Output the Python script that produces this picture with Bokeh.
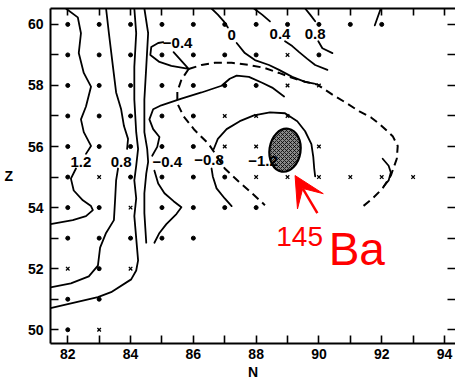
from bokeh.plotting import figure
from bokeh.models import LinearAxis, FixedTicker, Arrow, VeeHead, Range1d
from bokeh.core.properties import value
from bokeh.embed import file_html
from bokeh.resources import INLINE

FONT = "Liberation Sans"

# ---- axis ticks -------------------------------------------------------
n_ticks = list(range(82, 95))
z_ticks = list(range(50, 61))

# ---- grid points (dots = measured, crosses = predicted) ---------------
dot_n = ([82, 83, 84, 85, 86, 87, 88, 89, 90, 91, 92] +
         [82, 83, 84, 85, 86, 87, 88, 90] +
         [82, 83, 84, 85, 86, 87, 88] +
         [82, 83, 84, 85, 86] +
         [82, 83, 84, 85, 86] +
         [82, 84, 85, 86, 87] +
         [82, 83, 85, 86, 87, 88] +
         [82, 83, 84, 85, 86] +
         [83] + [82, 83] + [82])
dot_z = ([60] * 11 + [59] * 8 + [58] * 7 + [57] * 5 + [56] * 5 +
         [55] * 5 + [54] * 6 + [53] * 5 + [52] + [51] * 2 + [50])

cross_n = [89, 89, 90, 87, 88, 89, 87, 88, 90, 83, 88, 89, 90, 91, 92, 93, 84, 82, 84, 83]
cross_z = [59, 58, 58, 57, 57, 57, 56, 56, 56, 55, 55, 55, 55, 55, 55, 55, 54, 52, 52, 50]

# ---- contour lines (N, Z) --------------------------------------------
c12a_n = [81.94, 82.32, 82.42, 82.35, 82.51, 82.74, 82.58, 82.42, 82.51, 82.74, 82.58]
c12a_z = [60.52, 60.23, 59.71, 59.06, 58.41, 57.96, 57.31, 56.89, 56.47, 56.02, 55.76]
c12b_n = [82.26, 82.10, 82.19, 82.48, 82.74, 82.80, 82.58, 82.16, 81.45]
c12b_z = [55.28, 54.95, 54.56, 54.24, 54.05, 53.92, 53.72, 53.59, 53.46]

c08a_n = [83.22, 83.31, 83.44, 83.54, 83.70, 83.79, 83.92, 83.89]
c08a_z = [60.52, 59.71, 58.61, 57.77, 57.22, 56.67, 56.25, 55.92]
c08b_n = [83.60, 83.54, 83.51, 83.47, 83.22, 83.03, 82.96, 82.67, 82.10, 81.45]
c08b_z = [55.28, 54.89, 54.30, 53.59, 53.17, 52.69, 52.10, 51.75, 51.52, 51.39]

c04_n = [84.12, 84.18, 84.12, 84.12, 84.18, 84.24, 84.18, 84.12, 84.18, 84.12,
         84.24, 84.18, 84.02, 83.38, 82.96, 82.00, 81.45]
c04_z = [60.52, 59.71, 58.61, 57.54, 56.47, 55.92, 55.37, 54.89, 54.30, 53.72,
         52.27, 51.94, 51.65, 51.23, 51.07, 50.84, 50.71]

c00_n = [84.44, 84.56, 84.50, 84.44, 84.44, 84.53, 84.56, 84.50, 84.44, 84.44, 84.47, 84.50]
c00_z = [60.52, 59.71, 58.61, 57.54, 56.47, 55.92, 55.50, 55.11, 54.47, 53.82, 53.33, 52.85]

cm04a_n = [88.89, 88.51, 88.19, 87.77, 87.38, 87.16, 86.90, 86.26, 85.62, 84.98,
           84.72, 84.60, 84.72, 84.92, 84.85, 84.69]
cm04a_z = [57.64, 57.93, 58.09, 58.28, 58.32, 58.22, 57.99, 57.77, 57.57, 57.35,
           57.22, 56.89, 56.57, 56.31, 55.99, 55.70]
cm04b_n = [84.76, 84.88, 85.08, 85.37, 85.62, 85.46, 85.14, 84.92, 84.76]
cm04b_z = [55.21, 54.79, 54.47, 54.21, 54.01, 53.79, 53.46, 53.17, 52.85]

loop_n = [85.37, 85.85, 85.30, 84.92, 84.63, 84.66, 84.88, 85.04]
loop_z = [59.09, 58.54, 58.64, 58.77, 59.00, 59.26, 59.39, 59.42]

t00a_n = [86.58, 86.78, 86.97, 87.10]
t00a_z = [60.52, 60.32, 60.10, 59.90]
t00b_n = [87.38, 87.64, 87.96, 88.41, 88.73, 89.15, 89.56, 89.85]
t00b_z = [59.39, 59.06, 58.83, 58.67, 58.51, 58.28, 58.12, 58.06]

t04a_n = [87.93, 88.19, 88.44]
t04a_z = [60.52, 60.32, 60.10]
t04b_n = [88.92, 89.15, 89.37, 89.63, 89.88, 90.27]
t04b_z = [59.45, 59.29, 59.09, 58.87, 58.67, 58.51]

t08a_n = [89.56, 89.72, 89.88]
t08a_z = [60.52, 60.32, 60.10]
t08b_n = [89.98, 90.11, 90.43]
t08b_z = [59.45, 59.22, 59.06]

t12_n = [91.97, 91.78]
t12_z = [60.52, 59.97]

cm08a_n = [86.65, 86.78, 87.06, 87.48, 87.93, 88.44, 88.92, 89.31, 89.56, 89.76, 89.82, 89.85, 89.88]
cm08a_z = [55.92, 56.25, 56.57, 56.83, 57.02, 57.12, 57.09, 56.83, 56.50, 56.08, 55.66, 55.28, 55.02]
cm08b_n = [86.58, 86.62, 86.74, 87.00, 87.22]
cm08b_z = [55.28, 55.02, 54.63, 54.30, 54.05]

arc_n = [92.03, 92.22, 92.29, 92.22, 92.06]
arc_z = [55.60, 55.37, 55.15, 54.89, 54.69]

# ---- dashed boundary --------------------------------------------------
dtop_n = [85.85, 86.26, 86.68, 87.22, 87.77, 88.25, 88.73, 89.15, 89.56, 89.95,
          90.43, 90.85, 91.29, 91.65, 91.94, 92.35, 92.51, 92.48, 92.29, 92.03, 91.71, 91.33]
dtop_z = [58.54, 58.67, 58.74, 58.74, 58.67, 58.58, 58.41, 58.25, 58.12, 58.03,
          57.70, 57.44, 57.15, 56.96, 56.73, 56.34, 56.02, 55.60, 55.05, 54.63, 54.30, 53.98]
dleft_n = [85.85, 85.62, 85.49, 85.49, 85.69, 86.04, 86.49, 86.74, 87.00, 87.45, 87.87, 88.28]
dleft_z = [58.54, 58.19, 57.80, 57.41, 56.99, 56.54, 56.08, 55.70, 55.28, 54.85, 54.47, 54.08]

# ---- contour labels ---------------------------------------------------
lab_text = ["1.2", "0.8", "\u22120.4", "\u22120.8", "\u22121.2", "\u22120.4", "0", "0.4", "0.8"]
lab_n = [82.42, 83.70, 85.17, 86.50, 88.22, 85.50, 87.22, 88.76, 89.88]
lab_z = [55.50, 55.50, 55.50, 55.57, 55.53, 59.39, 59.64, 59.68, 59.68]

# ---- 145Ba region ----------------------------------------------------
ell_n, ell_z, ell_w, ell_h = [88.92], [55.88], [0.99], [1.42]
arrow_from = (89.95, 53.82)
arrow_to = (89.24, 55.05)
mass_pos = (88.64, 53.06)
elem_pos = (90.31, 52.64)

p = figure(width=455, height=382,
           x_range=Range1d(81.45, 94.35), y_range=Range1d(49.55, 60.52),
           output_backend="svg", toolbar_location=None,
           x_axis_label="N", y_axis_label="Z",
           min_border_left=50, min_border_right=0, min_border_top=8, min_border_bottom=0)
p.grid.visible = False
p.outline_line_color = None
p.background_fill_color = "white"
p.border_fill_color = "white"

def style_axis(ax, labels=True):
    ax.major_tick_in = 8
    ax.major_tick_out = 0
    ax.minor_tick_in = 8
    ax.minor_tick_out = 0
    ax.axis_line_width = 2
    ax.axis_line_color = "black"
    ax.major_tick_line_width = 1.6
    ax.major_tick_line_color = "black"
    ax.minor_tick_line_width = 1.6
    ax.minor_tick_line_color = "black"
    if labels:
        ax.major_label_text_font = FONT
        ax.major_label_text_font_style = "bold"
        ax.major_label_text_font_size = "14px"
        ax.major_label_text_color = "black"
        ax.major_label_text_line_height = 1.0
        ax.axis_label_text_font = FONT
        ax.axis_label_text_font_style = "bold"
        ax.axis_label_text_font_size = "14px"
        ax.axis_label_text_color = "black"
        ax.axis_label_text_line_height = 1.0
    else:
        ax.major_label_standoff = 0
        ax.axis_label_standoff = 0

# labelled ticks at even values, unlabelled ticks of equal length at odd values
p.xaxis.ticker = FixedTicker(ticks=[t for t in n_ticks if t % 2 == 0],
                             minor_ticks=[t for t in n_ticks if t % 2])
p.yaxis.ticker = FixedTicker(ticks=[t for t in z_ticks if t % 2 == 0],
                             minor_ticks=[t for t in z_ticks if t % 2])
style_axis(p.xaxis[0])
style_axis(p.yaxis[0])
p.xaxis.major_label_standoff = 5
p.xaxis.axis_label_standoff = 2
p.yaxis.major_label_standoff = 7
p.yaxis.axis_label_standoff = 12
try:
    p.yaxis.axis_label_orientation = "horizontal"
except Exception:
    pass

top_ax = LinearAxis(ticker=FixedTicker(ticks=[], minor_ticks=n_ticks))
style_axis(top_ax, labels=False)
top_ax.minor_tick_in = 7
p.add_layout(top_ax, "above")
right_ax = LinearAxis(ticker=FixedTicker(ticks=[], minor_ticks=z_ticks))
style_axis(right_ax, labels=False)
right_ax.axis_line_color = None
p.add_layout(right_ax, "right")

solid_xs = [c12a_n, c12b_n, c08a_n, c08b_n, c04_n, c00_n, cm04a_n, cm04b_n, loop_n,
            t00a_n, t00b_n, t04a_n, t04b_n, t08a_n, t08b_n, t12_n, cm08a_n, cm08b_n, arc_n]
solid_ys = [c12a_z, c12b_z, c08a_z, c08b_z, c04_z, c00_z, cm04a_z, cm04b_z, loop_z,
            t00a_z, t00b_z, t04a_z, t04b_z, t08a_z, t08b_z, t12_z, cm08a_z, cm08b_z, arc_z]
p.multi_line(xs=solid_xs, ys=solid_ys, line_color="black", line_width=1.8,
             line_join="round", line_cap="round")
p.multi_line(xs=[dtop_n, dleft_n], ys=[dtop_z, dleft_z], line_color="black",
             line_width=2, line_dash="8 5")

p.scatter(dot_n, dot_z, marker="circle", size=4, color="black")
p.scatter(cross_n, cross_z, marker="x", size=5, line_color="black", line_width=1.3)

p.ellipse(x=ell_n, y=ell_z, width=ell_w, height=ell_h, angle=-0.15,
          fill_color="#8a8a8a", line_color="black", line_width=2.2,
          hatch_pattern="diagonal_cross", hatch_color="black", hatch_scale=4,
          hatch_weight=1, hatch_alpha=0.8)

p.text(x=lab_n, y=lab_z, text=lab_text, text_font=value(FONT),
       text_font_style="bold", text_font_size="15px", text_color="black",
       text_align="center", text_baseline="middle")

p.add_layout(Arrow(end=VeeHead(size=30, fill_color="red", line_color="red"),
                   x_start=arrow_from[0], y_start=arrow_from[1],
                   x_end=arrow_to[0], y_end=arrow_to[1],
                   line_color="red", line_width=2.5))
p.text(x=[mass_pos[0]], y=[mass_pos[1]], text=["145"], text_font=value(FONT),
       text_font_size="28px", text_color="red", text_align="left",
       text_baseline="alphabetic")
p.text(x=[elem_pos[0]], y=[elem_pos[1]], text=["Ba"], text_font=value(FONT),
       text_font_size="46px", text_color="red", text_align="left",
       text_baseline="alphabetic")

open("out.html", "w").write(file_html(p, INLINE))
